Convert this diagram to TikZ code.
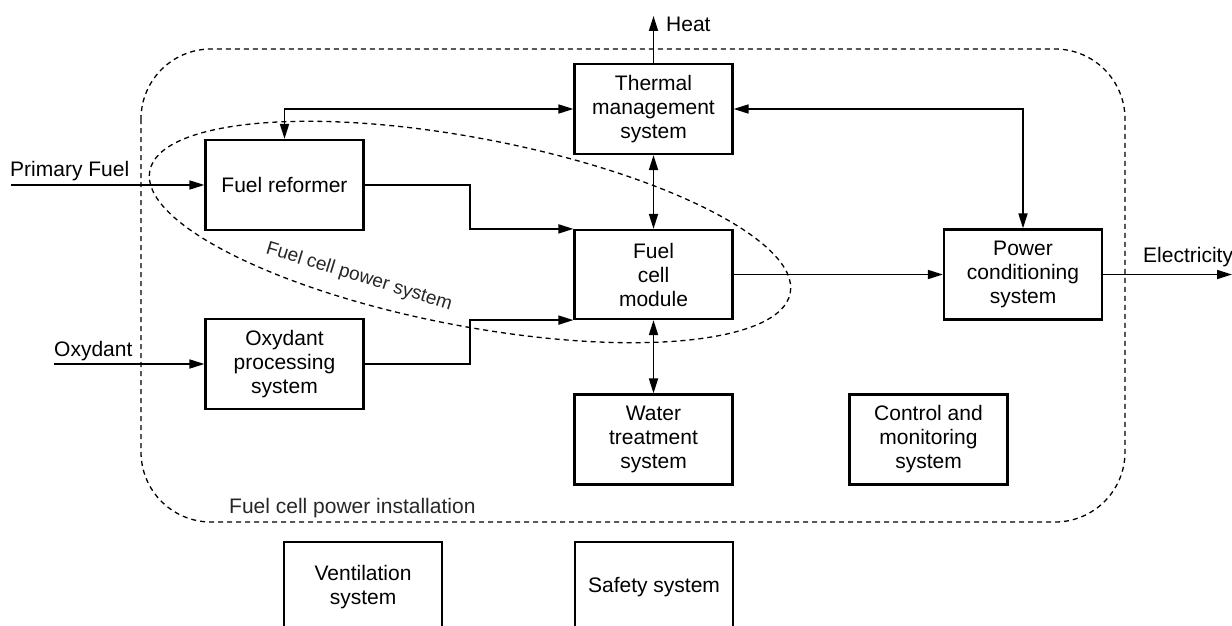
\documentclass[tikz,border=0pt]{standalone}
\usepackage{fontspec}
\setmainfont{Liberation Sans}
\usetikzlibrary{arrows.meta}
\newcommand{\mainfs}{\fontsize{21}{24}\selectfont}
\newcommand{\smallfs}{\fontsize{19}{22}\selectfont}
\begin{document}
\begin{tikzpicture}[x=1pt,y=-1pt,
  box/.style={draw, line width=2.2pt, minimum width=158pt, minimum height=90pt, inner sep=0pt, align=center, font=\mainfs},
  conn/.style={line width=1.7pt},
  tip/.style={},
  arr/.style={conn, -{Triangle[length=15pt,width=9pt]}},
  dbl/.style={conn, {Triangle[length=15pt,width=9pt]}-{Triangle[length=15pt,width=9pt]}},
  boundary/.style={line width=1.3pt, dash pattern=on 5pt off 4pt},
  lbl/.style={font=\mainfs, inner sep=0pt, anchor=base west}]
\useasboundingbox (0,0) rectangle (1232,626);
\clip (0,0) rectangle (1232,626);

% boundaries
\draw[boundary, rounded corners=70pt] (141,49) rectangle (1125,522);
\draw[boundary, rotate around={-10.8:(470,232)}] (470,232) ellipse [x radius=326pt, y radius=94pt];

% boxes
\node[box] (therm) at (653.5,109) {Thermal\\management\\system};
\node[box] (reform) at (284.5,185) {Fuel reformer};
\node[box, minimum height=89pt] (fcm) at (653.5,274.5) {Fuel\\cell\\module};
\node[box] (pcs) at (1023,274.5) {Power\\conditioning\\system};
\node[box] (oxy) at (284.5,364) {Oxydant\\processing\\system};
\node[box] (water) at (653.5,439.5) {Water\\treatment\\system};
\node[box] (ctrl) at (928.5,439.5) {Control and\\monitoring\\system};
\node[box] (vent) at (363,587) {Ventilation\\system};
\node[box] (safety) at (654,587) {Safety system};

% free ends and joints
\coordinate (pfin) at (11,185);
\coordinate (oxin) at (54,364);
\coordinate (heat) at (653.5,16);
\coordinate (elec) at (1232,274.5);
\coordinate (j1) at (470,0);

% labels
\node[lbl] (pflbl) at (10,176) {Primary Fuel};
\node[lbl] (oxlbl) at (54,356) {Oxydant};
\node[lbl] (heatlbl) at (666,32) {Heat};
\node[lbl] (eleclbl) at (1143,262) {Electricity};
\node[lbl, text=black!85] (instlbl) at (229,513) {Fuel cell power installation};
\node[font=\smallfs, text=black!85, rotate=-17, inner sep=0pt] (syslbl) at (359,277) {Fuel cell power system};

% connectors
\draw[arr] (pfin) -- (reform.west);
\draw[arr] (oxin) -- (oxy.west);
\draw[arr] (therm.north) -- (heat);
\draw[dbl] (therm.west) -| (reform.north);
\draw[arr] (reform.east) -- (reform.east -| j1) |- (fcm.north west);
\draw[arr] (oxy.east) -- (oxy.east -| j1) |- (fcm.south west);
\draw[dbl] (therm.south) -- (fcm.north);
\draw[dbl] (fcm.south) -- (water.north);
\draw[arr] (fcm.east) -- (pcs.west);
\draw[dbl] (therm.east) -| (pcs.north);
\draw[arr] (pcs.east) -- (elec);
\end{tikzpicture}
\end{document}
